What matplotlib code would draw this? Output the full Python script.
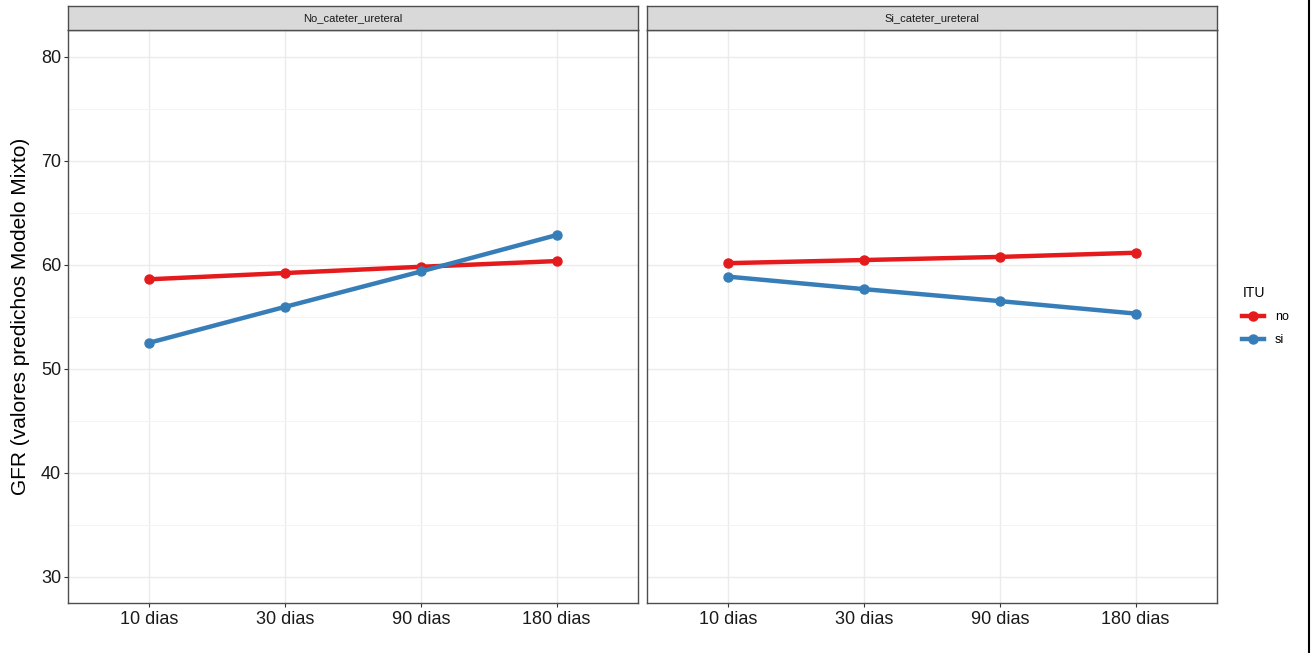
import matplotlib.pyplot as plt
from matplotlib.lines import Line2D

plt.rcParams['font.family'] = ['Liberation Sans', 'DejaVu Sans']

# categories and panels
tiempos = ["10 dias", "30 dias", "90 dias", "180 dias"]
paneles = ["No_cateter_ureteral", "Si_cateter_ureteral"]

# predicted GFR per panel, ITU group
no_cateter_no = [58.6, 59.2, 59.8, 60.35]
no_cateter_si = [52.5, 55.95, 59.35, 62.85]
si_cateter_no = [60.15, 60.45, 60.75, 61.15]
si_cateter_si = [58.85, 57.65, 56.5, 55.3]

series = {
    "No_cateter_ureteral": {"no": no_cateter_no, "si": no_cateter_si},
    "Si_cateter_ureteral": {"no": si_cateter_no, "si": si_cateter_si},
}
colores = {"no": "#E41A1C", "si": "#377EB8"}

W, H = 1314, 653
fig = plt.figure(figsize=(W / 100, H / 100), dpi=100)

panel_x = [68, 647]
panel_w = 570
top, bottom = 30, 603
strip_top = 6

x = list(range(1, len(tiempos) + 1))
for i, nombre in enumerate(paneles):
    ax = fig.add_axes([panel_x[i] / W, 1 - bottom / H, panel_w / W, (bottom - top) / H])
    for grupo in ["no", "si"]:
        ax.plot(x, series[nombre][grupo], color=colores[grupo], lw=3.2,
                marker="o", ms=6.5, solid_capstyle="butt", zorder=3)
    ax.set_xlim(0.4, 4.6)
    ax.set_ylim(27.47, 82.57)
    ax.set_xticks(x)
    ax.set_xticklabels(tiempos, fontsize=13, color="#1a1a1a")
    ax.set_yticks([30, 40, 50, 60, 70, 80])
    ax.set_yticks([35, 45, 55, 65, 75], minor=True)
    if i == 0:
        ax.set_yticklabels([30, 40, 50, 60, 70, 80], fontsize=13, color="#1a1a1a")
        ax.set_ylabel("GFR (valores predichos Modelo Mixto)", fontsize=15, labelpad=8)
        ax.tick_params(axis="y", which="major", length=3, width=0.8, color="#333333", pad=2)
    else:
        ax.tick_params(axis="y", which="major", length=0, labelleft=False)
    ax.tick_params(axis="y", which="minor", length=0)
    ax.tick_params(axis="x", length=3, width=0.8, color="#333333", pad=3)
    ax.grid(True, which="major", color="#EBEBEB", lw=1.0)
    ax.grid(True, which="minor", axis="y", color="#F2F2F2", lw=0.6)
    ax.set_axisbelow(True)
    for s in ax.spines.values():
        s.set_color("#4d4d4d")
        s.set_linewidth(1.0)

    # strip
    sx = fig.add_axes([panel_x[i] / W, 1 - top / H, panel_w / W, (top - strip_top) / H])
    sx.set_xticks([])
    sx.set_yticks([])
    sx.set_facecolor("#D9D9D9")
    for s in sx.spines.values():
        s.set_color("#4d4d4d")
        s.set_linewidth(1.0)
    sx.text(0.5, 0.5, nombre, ha="center", va="center", fontsize=8, color="#1a1a1a",
            transform=sx.transAxes)

# legend
handles = [Line2D([], [], color=colores[g], lw=3.2, marker="o", ms=6.5) for g in ["no", "si"]]
fig.legend(handles, ["no", "si"], title="ITU", loc="center left",
           bbox_to_anchor=(1231 / W, 1 - 316 / H), frameon=False, fontsize=9,
           title_fontsize=10, handlelength=1.7, handletextpad=0.9,
           labelspacing=0.9, alignment="left")

# frame line at right edge
fig.add_artist(Line2D([1309 / W, 1309 / W], [0, 1], color="black", lw=1.5,
                      transform=fig.transFigure))

fig.savefig("out.png", dpi=100)
